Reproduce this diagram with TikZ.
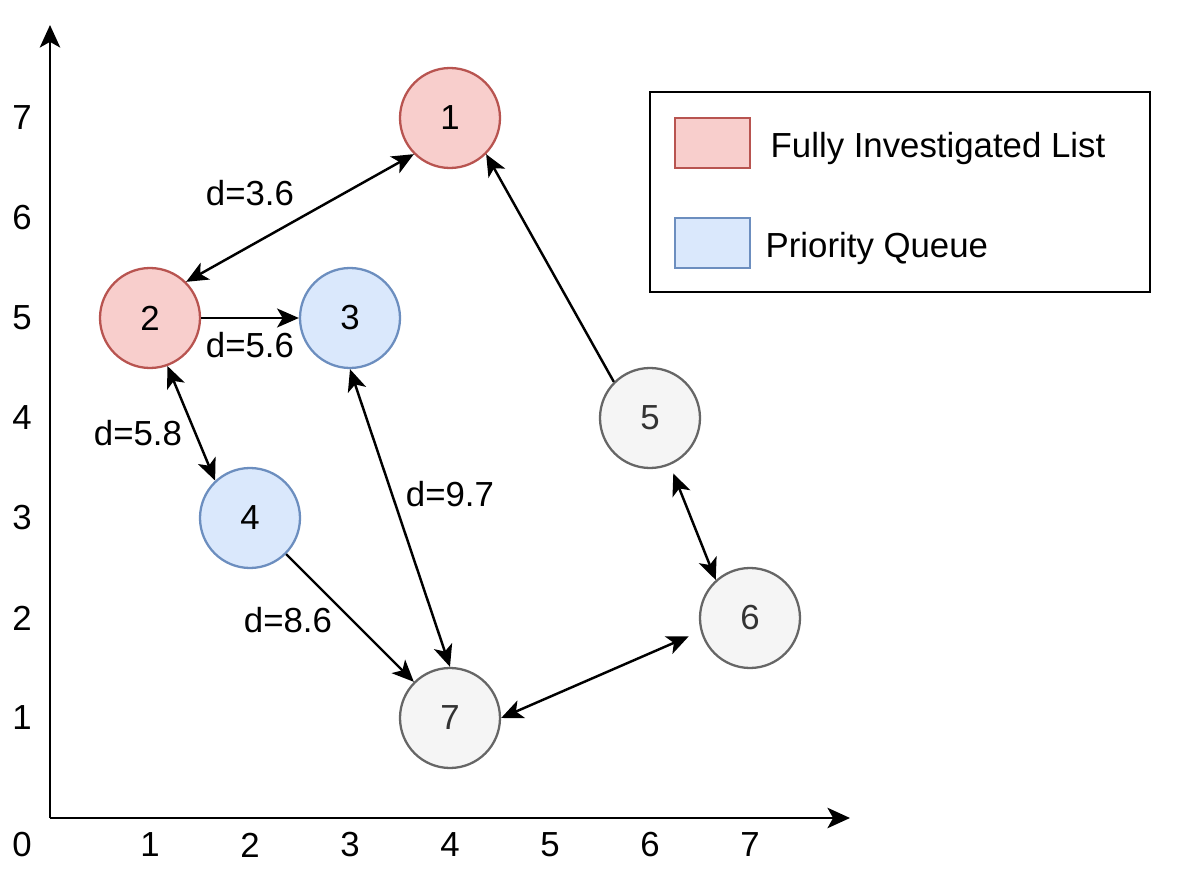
\documentclass[tikz,border=0pt]{standalone}
\usepackage{fontspec}
\setmainfont{Liberation Sans}
\usepackage{tikz}
\usetikzlibrary{positioning}
\usetikzlibrary{shapes,arrows,calc,arrows.meta}

\definecolor{redfill}{HTML}{F8CECC}
\definecolor{redline}{HTML}{B85450}
\definecolor{bluefill}{HTML}{DAE8FC}
\definecolor{blueline}{HTML}{6C8EBF}
\definecolor{greyfill}{HTML}{F5F5F5}
\definecolor{greyline}{HTML}{666666}
\definecolor{greytext}{HTML}{333333}

\begin{document}
\begin{tikzpicture}[
  font=\fontsize{9.9}{11.9}\selectfont,
  vertex/.style={circle, minimum size=1cm, inner sep=0pt, line width=0.65pt},
  investigated/.style={vertex, draw=redline, fill=redfill},
  queued/.style={vertex, draw=blueline, fill=bluefill},
  unseen/.style={vertex, draw=greyline, fill=greyfill, text=greytext},
  tip/.style={line width=0.7pt, -{Stealth[length=6.2pt,width=5.4pt,inset=1.6pt]}},
  bitip/.style={line width=0.7pt, {Stealth[length=6.2pt,width=5.4pt,inset=1.6pt]}-{Stealth[length=6.2pt,width=5.4pt,inset=1.6pt]}},
  swatch/.style={minimum width=0.75cm, minimum height=0.5cm, inner sep=0pt, line width=0.65pt}
]
  \useasboundingbox (-0.5,-0.76) rectangle (11.38,8.18);

  % Draw axes
  \coordinate (origin) at (0,0);
  \coordinate (xend) at (8.0,0);
  \coordinate (yend) at (0,7.93);
  \draw[line width=0.8pt, -{Stealth[length=6.4pt,width=5.8pt,inset=1.6pt]}] (origin) -- (xend);
  \draw[line width=0.8pt, -{Stealth[length=6.4pt,width=5.8pt,inset=1.6pt]}] (origin) -- (yend);

  % Add numbers below x-axis
  \node (x0) at (-0.28,-0.27) {0};
  \node (x1) at (1,-0.27) {1};
  \node (x2) at (2,-0.27) {2};
  \node (x3) at (3,-0.27) {3};
  \node (x4) at (4,-0.27) {4};
  \node (x5) at (5,-0.27) {5};
  \node (x6) at (6,-0.27) {6};
  \node (x7) at (7,-0.27) {7};

  % Add numbers left of y-axis
  \node (y1) at (-0.28,1) {1};
  \node (y2) at (-0.28,2) {2};
  \node (y3) at (-0.28,3) {3};
  \node (y4) at (-0.28,4) {4};
  \node (y5) at (-0.28,5) {5};
  \node (y6) at (-0.28,6) {6};
  \node (y7) at (-0.28,7) {7};

  % Vertices
  \node[investigated] (n1) at (4,7) {1};
  \node[investigated] (n2) at (1,5) {2};
  \node[queued] (n3) at (3,5) {3};
  \node[queued] (n4) at (2,3) {4};
  \node[unseen] (n5) at (6,4) {5};
  \node[unseen] (n6) at (7,2) {6};
  \node[unseen] (n7) at (4,1) {7};

  % Edges
  \draw[bitip] (n2.45) -- (n1.225);
  \draw[tip] (n2) -- (n3);
  \draw[bitip] (n2.-70) -- (n4.133);
  \draw[bitip] (n3.south) -- (n7.north);
  \draw[tip] (n4.-45) -- (n7.135);
  \draw[tip] (n5.135) -- (n1.-45);
  \draw[bitip, shorten <=0.09cm] (n5.-67) -- (n6.132);
  \draw[bitip, shorten >=0.13cm] (n7.east) -- (n6.195);

  % Distance labels
  \node (d21) at (2.0,6.25) {d=3.6};
  \node (d23) at (2.0,4.73) {d=5.6};
  \node (d24) at (0.88,3.85) {d=5.8};
  \node (d37) at (4.0,3.24) {d=9.7};
  \node (d47) at (2.38,1.98) {d=8.6};

  % Legend
  \draw[line width=0.8pt] (6.0,7.26) rectangle (11.0,5.26);
  \node[swatch, draw=redline, fill=redfill] (keyred) at (6.625,6.75) {};
  \node[swatch, draw=blueline, fill=bluefill] (keyblue) at (6.625,5.75) {};
  \node[anchor=west, inner sep=0pt] (keyredtext) at (7.2,6.69) {Fully Investigated List};
  \node[anchor=west, inner sep=0pt] (keybluetext) at (7.15,5.69) {Priority Queue};
\end{tikzpicture}
\end{document}
